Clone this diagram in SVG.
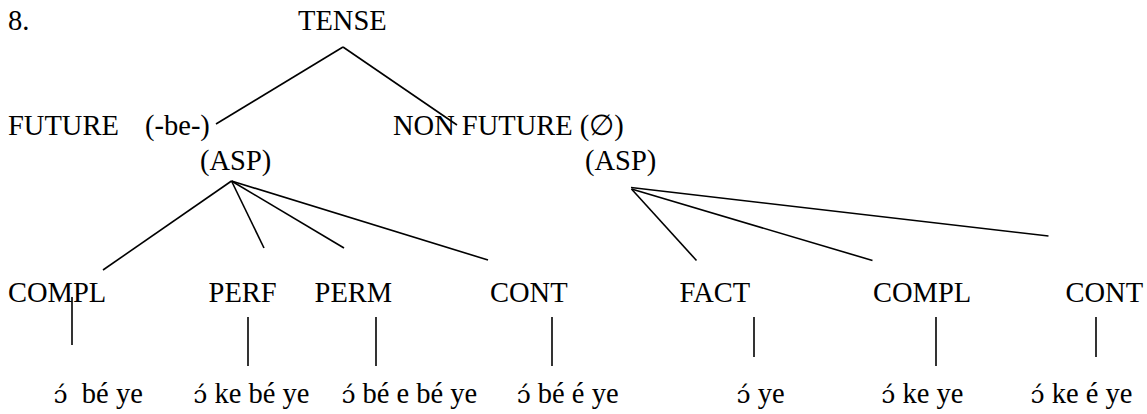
<svg xmlns="http://www.w3.org/2000/svg" width="1147" height="414" viewBox="0 0 1147 414">
<style>
text{font-family:"Liberation Serif","Times New Roman",serif;font-size:28.5px;fill:#000;white-space:pre}
.o{font-family:"DejaVu Serif","Liberation Serif",serif;font-size:25px}
.c line{stroke:#000;stroke-width:1.6;stroke-linecap:butt}
</style>
<rect width="1147" height="414" fill="#fff"/>
<g id="num"><text x="8" y="30">8.</text></g>
<g id="tense"><text x="298" y="30">TENSE</text></g>
<g id="future"><text x="8" y="135">FUTURE</text><text x="145" y="135">(-be-)</text></g>
<g id="nonfuture"><text x="393" y="135">NON FUTURE (∅)</text></g>
<g id="asp1"><text x="200" y="170">(ASP)</text></g>
<g id="asp2"><text x="585" y="170">(ASP)</text></g>
<g id="compl1"><text x="8" y="302">COMPL</text></g>
<g id="perf"><text x="208.6" y="302">PERF</text></g>
<g id="perm"><text x="314.6" y="302">PERM</text></g>
<g id="cont1"><text x="490" y="302">CONT</text></g>
<g id="fact"><text x="679.5" y="302">FACT</text></g>
<g id="compl2"><text x="873" y="302">COMPL</text></g>
<g id="cont2"><text x="1065.5" y="302">CONT</text></g>
<g id="ex1"><text x="53.6" y="403"><tspan class="o">ɔ́</tspan>  bé ye</text></g>
<g id="ex2"><text x="193.3" y="403"><tspan class="o">ɔ́</tspan> ke bé ye</text></g>
<g id="ex3"><text x="341.4" y="403"><tspan class="o">ɔ́</tspan> bé e bé ye</text></g>
<g id="ex4"><text x="516.7" y="403"><tspan class="o">ɔ́</tspan> bé é ye</text></g>
<g id="ex5"><text x="736.6" y="403"><tspan class="o">ɔ́</tspan> ye</text></g>
<g id="ex6"><text x="881.3" y="403"><tspan class="o">ɔ́</tspan> ke ye</text></g>
<g id="ex7"><text x="1030.6" y="403"><tspan class="o">ɔ́</tspan> ke é ye</text></g>
<g id="connectors" class="c">
<line x1="343" y1="47" x2="216" y2="124"/>
<line x1="343" y1="47" x2="457" y2="125"/>
<line x1="231.5" y1="181" x2="103" y2="270"/>
<line x1="231.5" y1="181" x2="264" y2="248"/>
<line x1="231.5" y1="181" x2="344" y2="248"/>
<line x1="231.5" y1="181" x2="488" y2="260"/>
<line x1="631" y1="187.5" x2="1048.5" y2="236"/>
<line x1="631.5" y1="189" x2="696.5" y2="260.5"/>
<line x1="631.5" y1="189" x2="872.5" y2="260.5"/>
<line x1="72" y1="297" x2="72" y2="345"/>
<line x1="248" y1="317" x2="248" y2="366"/>
<line x1="376" y1="317" x2="376" y2="366"/>
<line x1="552" y1="317" x2="552" y2="366"/>
<line x1="754" y1="317" x2="754" y2="357"/>
<line x1="936" y1="317" x2="936" y2="366"/>
<line x1="1096" y1="317" x2="1096" y2="357"/>
</g>
</svg>
